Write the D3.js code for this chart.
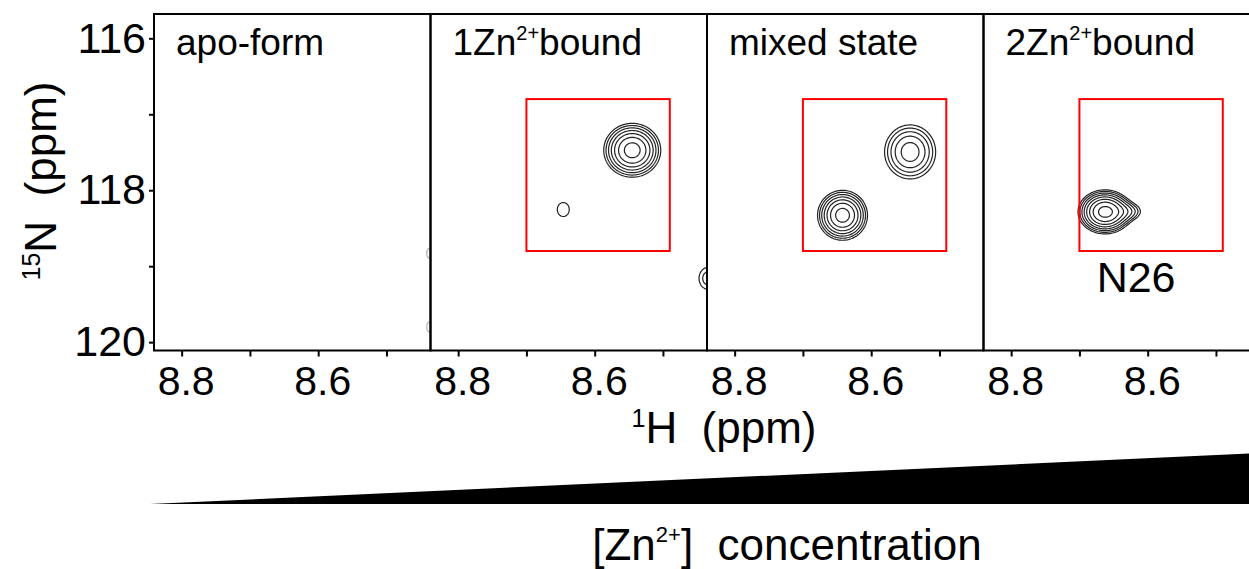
<!DOCTYPE html>
<html><head><meta charset="utf-8">
<script src="https://cdn.jsdelivr.net/npm/d3@7"></script>
<style>
body{margin:0;background:#fff}
svg{display:block}
text{font-family:"Liberation Sans",Arial,sans-serif;fill:#000;white-space:pre}
</style>
</head><body>
<svg id="chart" width="1249" height="569"></svg>
<script>
// ---------- data ----------
const panelMain = ["apo-form", "1Zn", "mixed state", "2Zn"];
const panelSup  = ["", "2+", "", "2+"];
const panelTail = ["", "bound", "", "bound"];
const hDomain = [8.8405, 8.4355];          // 1H ppm (reversed)
const nDomain = [115.68, 120.11];          // 15N ppm (reversed)
const hTicks = [8.8, 8.7, 8.6, 8.5];
const hTickLabels = ["8.8", "", "8.6", ""];
const nTicks = [116, 117, 118, 119, 120];
const nTickLabels = ["116", "", "118", "", "120"];
const boxPanels = [1, 2, 3];
const boxH = [8.70, 8.49];
const boxN = [116.8, 118.8];
const boxLabel = "N26";
const boxLabelH = 8.617;
// peaks (one entry per index)
const peakPanel = [0, 0, 1, 1, 1, 2, 2, 3, 3];
const peakH     = [8.4375, 8.4375, 8.545, 8.646, 8.434, 8.543, 8.642, 8.6626, 8.625];
const peakN     = [118.83, 119.80, 117.474, 118.254, 119.16, 117.496, 118.33, 118.285, 118.28];
const peakAmp   = [1.1, 1.1, 5.5, 1.15, 1.5, 3.3, 5.5, 7.0, 1.2];
const peakWH    = [0.008, 0.008, 0.0226, 0.0166, 0.0146, 0.0242, 0.0198, 0.020, 0.015];
const peakWN    = [0.15, 0.15, 0.192, 0.174, 0.16, 0.230, 0.178, 0.147, 0.08];
const contourLevels = [1, 1.3, 1.69, 2.197, 2.856, 3.713, 4.827, 6.275];
const panelContourColor = ["#b0b0b0", "#222", "#222", "#222"];
const concentration = [0, 1];

// ---------- layout ----------
const svg = d3.select("#chart");
const W = 1249, H = 569;
const topY = 14, bottomY = 350.5;
const panelLeft = [154, 430.5, 707, 983.5];
const panelW = 276.5;
const font = '"Liberation Sans",Arial,sans-serif';

const y = d3.scaleLinear().domain(nDomain).range([topY, bottomY]);

svg.append("rect").attr("width", W).attr("height", H).attr("fill", "#fff");

const defs = svg.append("defs");

panelLeft.forEach((left, p) => {
  const x = d3.scaleLinear().domain(hDomain).range([left, left + panelW]);
  const g = svg.append("g");
  defs.append("clipPath").attr("id", "clip" + p)
    .append("rect").attr("x", left).attr("y", topY).attr("width", panelW).attr("height", bottomY - topY);

  // contours
  const nx = Math.round(panelW), ny = Math.round(bottomY - topY);
  const gH = d3.scaleLinear().domain([0, nx]).range(hDomain);
  const gN = d3.scaleLinear().domain([0, ny]).range(nDomain);
  const idx = peakPanel.map((pp, i) => pp === p ? i : -1).filter(i => i >= 0);
  if (idx.length) {
    const values = new Float64Array(nx * ny);
    for (let j = 0; j < ny; j++) {
      const nv = gN(j + 0.5);
      for (let i = 0; i < nx; i++) {
        const hv = gH(i + 0.5);
        let s = 0;
        for (const k of idx) {
          const dx = (hv - peakH[k]) / peakWH[k];
          const dy = (nv - peakN[k]) / peakWN[k];
          s += peakAmp[k] * Math.exp(-0.5 * (dx * dx + dy * dy));
        }
        values[j * nx + i] = s;
      }
    }
    const contours = d3.contours().size([nx, ny]).thresholds(contourLevels)(values);
    const proj = d3.geoTransform({
      point: function(px, py) { this.stream.point(x(gH(px)), y(gN(py))); }
    });
    g.append("g").attr("clip-path", "url(#clip" + p + ")")
      .selectAll("path").data(contours).join("path")
      .attr("d", d3.geoPath(proj))
      .attr("fill", "none")
      .attr("stroke", panelContourColor[p])
      .attr("stroke-width", 1.2)
      .attr("stroke-linejoin", "round");
  }

  // red box
  if (boxPanels.includes(p)) {
    g.append("rect")
      .attr("x", x(boxH[0])).attr("y", y(boxN[0]))
      .attr("width", x(boxH[1]) - x(boxH[0])).attr("height", y(boxN[1]) - y(boxN[0]))
      .attr("fill", "none").attr("stroke", "#f00").attr("stroke-width", 2);
  }
  if (p === 3) {
    g.append("text").attr("x", x(boxLabelH)).attr("y", y(boxN[1]) + 41)
      .attr("text-anchor", "middle").attr("font-size", 43).text(boxLabel);
  }

  // frame
  g.append("rect").attr("x", left).attr("y", topY).attr("width", panelW).attr("height", bottomY - topY)
    .attr("fill", "none").attr("stroke", "#000").attr("stroke-width", 2);

  // panel label
  const t = g.append("text").attr("x", left + 22).attr("y", 55).attr("font-size", 37);
  t.append("tspan").text(panelMain[p]);
  if (panelSup[p]) {
    t.append("tspan").attr("font-size", 20).attr("dy", -15).text(panelSup[p]);
    t.append("tspan").attr("dy", 15).text(panelTail[p]);
  }

  // x axis
  const ax = g.append("g").attr("transform", `translate(0,${bottomY})`)
    .call(d3.axisBottom(x).tickValues(hTicks).tickSize(6).tickPadding(9)
      .tickFormat((d, i) => hTickLabels[i]));
  ax.select(".domain").remove();
  ax.selectAll("line").attr("stroke", "#000").attr("stroke-width", 2);
  ax.selectAll("text").attr("font-size", 41).attr("dx", 4).attr("font-family", font).attr("fill", "#000");
});

// y axis
const ay = svg.append("g").attr("transform", `translate(${panelLeft[0]},0)`)
  .call(d3.axisLeft(y).tickValues(nTicks).tickSize(5).tickPadding(3)
    .tickFormat((d, i) => nTickLabels[i]));
ay.select(".domain").remove();
ay.selectAll("line").attr("stroke", "#000").attr("stroke-width", 2);
ay.selectAll("text").attr("font-size", 43).attr("font-family", font).attr("fill", "#000");

// y title
const yt = svg.append("text").attr("transform", `translate(56,181) rotate(-90)`)
  .attr("text-anchor", "middle").attr("font-size", 44);
yt.append("tspan").attr("font-size", 25).attr("dy", -16).text("15");
yt.append("tspan").attr("dy", 16).text("N  (ppm)");

// x title
const xt = svg.append("text").attr("x", 724).attr("y", 443).attr("text-anchor", "middle").attr("font-size", 44);
xt.append("tspan").attr("font-size", 25).attr("dy", -16).text("1");
xt.append("tspan").attr("dy", 16).text("H  (ppm)");

// concentration wedge
const cx = d3.scaleLinear().domain(concentration).range([150, 1262]);
const ch = d3.scaleLinear().domain(concentration).range([504, 453]);
svg.append("path")
  .datum(concentration)
  .attr("d", d3.area().x(d => cx(d)).y0(504).y1(d => ch(d)))
  .attr("fill", "#000");

const ct = svg.append("text").attr("x", 787).attr("y", 560).attr("text-anchor", "middle").attr("font-size", 44);
ct.append("tspan").text("[Zn");
ct.append("tspan").attr("font-size", 22).attr("dy", -18).text("2+");
ct.append("tspan").attr("dy", 18).text("]  concentration");
</script>
</body></html>
